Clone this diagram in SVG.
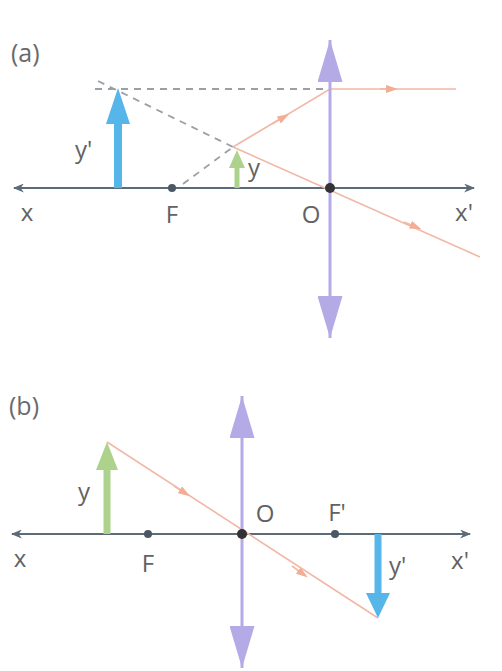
<svg xmlns="http://www.w3.org/2000/svg" width="502" height="671" viewBox="0 0 502 671">
<defs>
<marker id="axh" viewBox="0 0 10 10" refX="9" refY="5" markerWidth="11" markerHeight="9" markerUnits="userSpaceOnUse" orient="auto" preserveAspectRatio="none"><path d="M0,0 L10,5 L0,10 L3,5 Z" fill="#5b6b7a"/></marker>
<marker id="lensh" viewBox="0 0 10 10" refX="10" refY="5" markerWidth="42" markerHeight="25" markerUnits="userSpaceOnUse" orient="auto" preserveAspectRatio="none"><path d="M0,0 L10,5 L0,10 Z" fill="#b3aae6"/></marker>
<marker id="rayh" viewBox="0 0 10 10" refX="5" refY="5" markerWidth="12" markerHeight="8" markerUnits="userSpaceOnUse" orient="auto" preserveAspectRatio="none"><path d="M0,0 L10,5 L0,10 Z" fill="#f3ad95"/></marker>
</defs>
<style>
.axis{stroke:#5b6b7a;stroke-width:2.2;fill:none}
.lens{stroke:#b3aae6;stroke-width:3;fill:none}
.ray{stroke:#f2b8a6;stroke-width:1.6;fill:none}
.dash{stroke:#9aa0a6;stroke-width:1.8;fill:none;stroke-dasharray:7 6}
.lbl{font-family:"Open Sans","Liberation Sans",sans-serif;font-size:24px;fill:#626262;font-weight:400}
.ttl{font-family:"Open Sans","Liberation Sans",sans-serif;font-size:25px;fill:#6a6a6a;font-weight:400}
.pt{fill:#4a5866}
</style>
<rect width="502" height="671" fill="#ffffff"/>

<!-- Panel (a) -->
<g id="panel-a">
<text class="ttl" x="11" y="62">(a)</text>
<g id="a-connectors">
<line class="axis" x1="470" y1="188" x2="14" y2="188" marker-end="url(#axh)"/>
<line class="axis" x1="20" y1="188" x2="474" y2="188" marker-end="url(#axh)"/>
<line class="dash" x1="95" y1="89" x2="328" y2="89"/>
<line class="dash" x1="98" y1="81" x2="233" y2="147"/>
<line class="dash" x1="183" y1="184" x2="233" y2="147"/>
<polyline class="ray" points="233,147 330,89 456,89"/>
<line class="ray" x1="233" y1="147" x2="480" y2="257"/>
<line class="ray" x1="272" y1="124" x2="284" y2="117" marker-end="url(#rayh)"/>
<line class="ray" x1="380" y1="89" x2="392" y2="89" marker-end="url(#rayh)"/>
<line class="ray" x1="404" y1="222" x2="416" y2="227" marker-end="url(#rayh)"/>
</g>
<g id="a-lens">
<line class="lens" x1="330" y1="188" x2="330" y2="40" marker-end="url(#lensh)"/>
<line class="lens" x1="330" y1="188" x2="330" y2="338" marker-end="url(#lensh)"/>
</g>
<g id="a-image">
<line x1="118" y1="188" x2="118" y2="120" stroke="#56b6ea" stroke-width="8"/>
<path d="M118,88 L130,124 L106,124 Z" fill="#56b6ea"/>
<text class="lbl" x="75" y="158">y'</text>
</g>
<g id="a-object">
<line x1="237" y1="188" x2="237" y2="165" stroke="#acd28c" stroke-width="5"/>
<path d="M237,150 L245,168 L229,168 Z" fill="#acd28c"/>
<text class="lbl" x="248" y="176">y</text>
</g>
<g id="a-F"><circle class="pt" cx="172" cy="188" r="4"/><text class="lbl" x="172" y="223" text-anchor="middle">F</text></g>
<g id="a-O"><circle cx="330" cy="188" r="5" fill="#333"/><text class="lbl" x="311" y="223" text-anchor="middle">O</text></g>
<text class="lbl" x="27" y="221" text-anchor="middle">x</text>
<text class="lbl" x="464" y="221" text-anchor="middle">x'</text>
</g>

<!-- Panel (b) -->
<g id="panel-b">
<text class="ttl" x="9" y="415">(b)</text>
<g id="b-connectors">
<line class="axis" x1="466" y1="534" x2="12" y2="534" marker-end="url(#axh)"/>
<line class="axis" x1="20" y1="534" x2="470" y2="534" marker-end="url(#axh)"/>
<line class="ray" x1="107" y1="442" x2="378" y2="618"/>
<line class="ray" x1="174" y1="486" x2="185" y2="493" marker-end="url(#rayh)"/>
<line class="ray" x1="292" y1="566" x2="303" y2="574" marker-end="url(#rayh)"/>
</g>
<g id="b-lens">
<line class="lens" x1="242" y1="534" x2="242" y2="396" marker-end="url(#lensh)"/>
<line class="lens" x1="242" y1="534" x2="242" y2="668" marker-end="url(#lensh)"/>
</g>
<g id="b-object">
<line x1="107" y1="534" x2="107" y2="468" stroke="#acd28c" stroke-width="7"/>
<path d="M107,442 L118,470 L96,470 Z" fill="#acd28c"/>
<text class="lbl" x="78" y="500">y</text>
</g>
<g id="b-image">
<line x1="378" y1="534" x2="378" y2="596" stroke="#56b6ea" stroke-width="7"/>
<path d="M378,618 L390,593 L366,593 Z" fill="#56b6ea"/>
<text class="lbl" x="389" y="574">y'</text>
</g>
<g id="b-F"><circle class="pt" cx="148" cy="534" r="4"/><text class="lbl" x="148" y="572" text-anchor="middle">F</text></g>
<g id="b-O"><circle cx="242" cy="534" r="5" fill="#333"/><text class="lbl" x="265" y="522" text-anchor="middle">O</text></g>
<g id="b-F2"><circle class="pt" cx="335" cy="534" r="4"/><text class="lbl" x="337" y="521" text-anchor="middle">F'</text></g>
<text class="lbl" x="20" y="567" text-anchor="middle">x</text>
<text class="lbl" x="460" y="569" text-anchor="middle">x'</text>
</g>
</svg>
